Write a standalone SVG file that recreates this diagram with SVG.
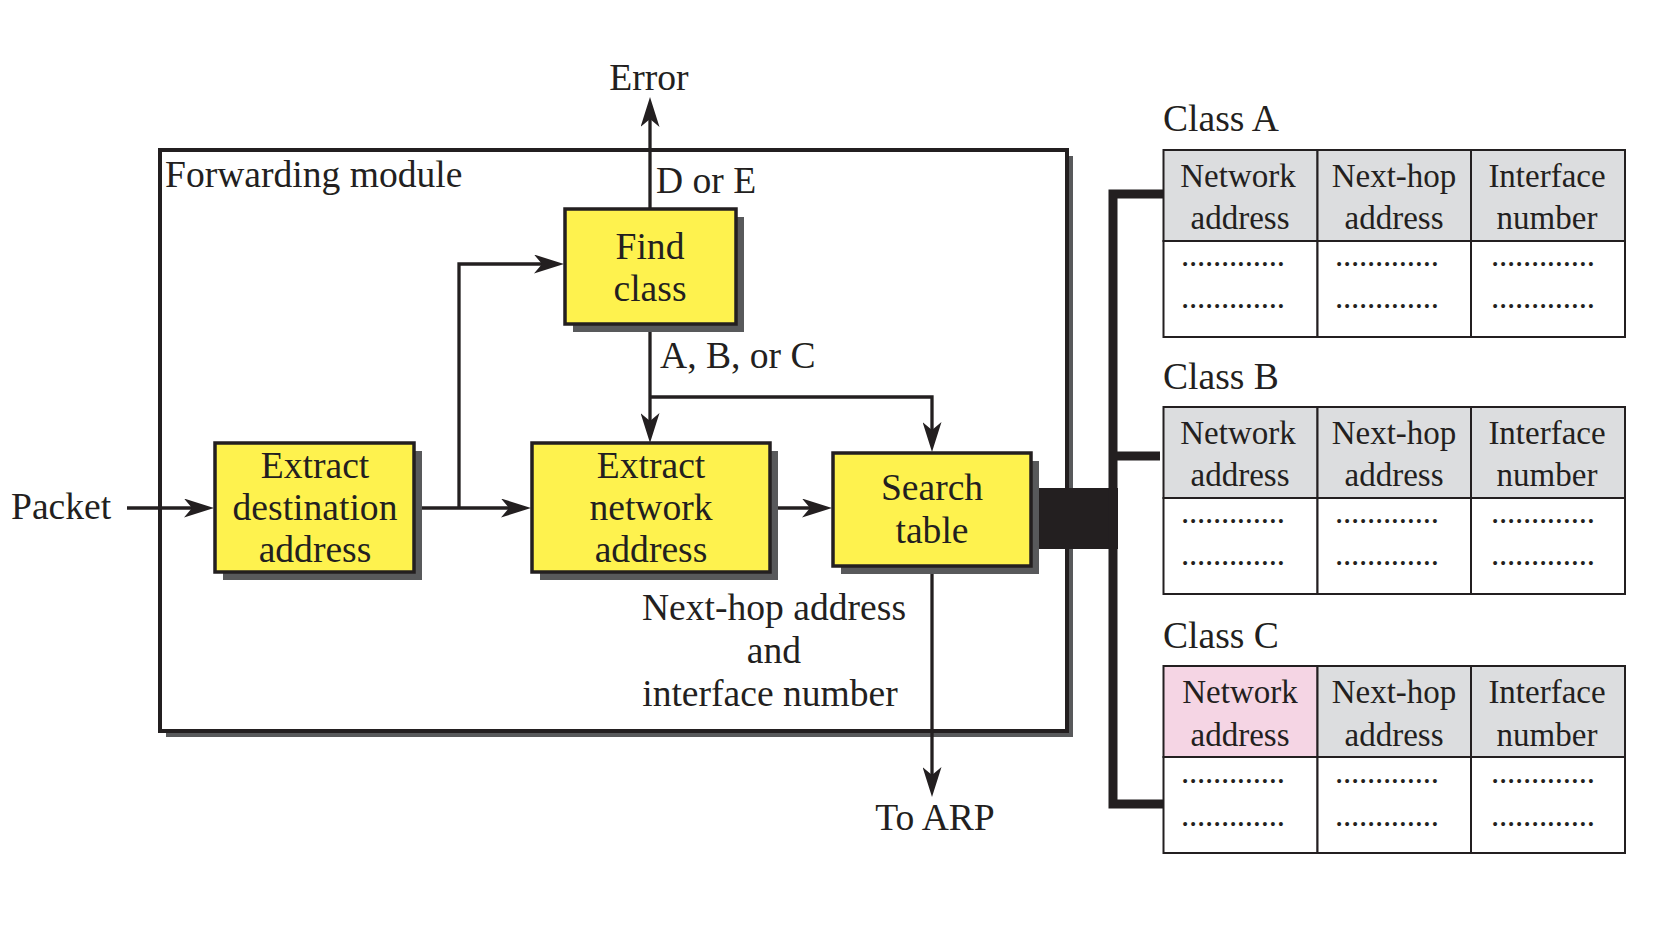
<svg xmlns="http://www.w3.org/2000/svg" width="1676" height="934" viewBox="0 0 1676 934">
<defs>
<marker id="ah" markerUnits="userSpaceOnUse" markerWidth="30" markerHeight="19" refX="22" refY="9.5" orient="auto">
<path d="M0,0 L30,9.5 L0,19 L8,9.5 Z" fill="#231f20"/>
</marker>
<style>
text{font-family:"Liberation Serif","Times New Roman",serif;fill:#231f20}
.t{font-size:37.6px}
.c{text-anchor:middle}
.tb{font-size:33px}
.box{fill:#fef24e;stroke:#231f20;stroke-width:3.5}
.sh{fill:#58595b}
.ln{fill:none;stroke:#231f20;stroke-width:3.3}
.cell{fill:#fff;stroke:#231f20;stroke-width:2}
.hd{fill:#dcdddf;stroke:#231f20;stroke-width:2}
.pk{fill:#f5d5e4;stroke:#231f20;stroke-width:2}
</style>
</defs>
<rect width="1676" height="934" fill="#fff"/>

<g id="forwarding-module">
<rect class="sh" x="166" y="156" width="907" height="581"/>
<rect x="160" y="150" width="907" height="581" fill="#fff" stroke="#231f20" stroke-width="4"/>
<text class="t" x="165" y="187">Forwarding module</text>
</g>

<g id="connectors">
<path class="ln" d="M127,508 H206" marker-end="url(#ah)"/>
<path class="ln" d="M414,508 H523" marker-end="url(#ah)"/>
<path class="ln" d="M459,508 V264 H556" marker-end="url(#ah)"/>
<path class="ln" d="M770,508 H824" marker-end="url(#ah)"/>
<path class="ln" d="M650,209 V105" marker-end="url(#ah)"/>
<path class="ln" d="M650,324 V435" marker-end="url(#ah)"/>
<path class="ln" d="M650,397 H932 V444" marker-end="url(#ah)"/>
<path class="ln" d="M932,566 V789" marker-end="url(#ah)"/>
<rect x="1031" y="488" width="87" height="61" fill="#231f20"/>
<path d="M1163,194 H1113 V804 H1163 M1113,456 H1160" fill="none" stroke="#231f20" stroke-width="9"/>
</g>

<g id="find-class">
<rect class="sh" x="573" y="217" width="171" height="115"/>
<rect class="box" x="565" y="209" width="171" height="115"/>
<text class="t c" x="650" y="259">Find</text>
<text class="t c" x="650" y="301">class</text>
</g>

<g id="extract-destination">
<rect class="sh" x="223" y="451" width="199" height="129"/>
<rect class="box" x="215" y="443" width="199" height="129"/>
<text class="t c" x="315" y="478">Extract</text>
<text class="t c" x="315" y="520">destination</text>
<text class="t c" x="315" y="562">address</text>
</g>

<g id="extract-network">
<rect class="sh" x="540" y="451" width="238" height="129"/>
<rect class="box" x="532" y="443" width="238" height="129"/>
<text class="t c" x="651" y="478">Extract</text>
<text class="t c" x="651" y="520">network</text>
<text class="t c" x="651" y="562">address</text>
</g>

<g id="search-table">
<rect class="sh" x="841" y="461" width="198" height="113"/>
<rect class="box" x="833" y="453" width="198" height="113"/>
<text class="t c" x="932" y="500">Search</text>
<text class="t c" x="932" y="543">table</text>
</g>

<g id="labels">
<text class="t c" x="649" y="90">Error</text>
<text class="t" x="656" y="193">D or E</text>
<text class="t" x="660" y="368">A, B, or C</text>
<text class="t" x="11" y="519">Packet</text>
<text class="t c" x="774" y="620">Next-hop address</text>
<text class="t c" x="774" y="663">and</text>
<text class="t c" x="770" y="706">interface number</text>
<text class="t c" x="935" y="830">To ARP</text>
</g>

<g id="class-a">
<text class="t" x="1163" y="131">Class A</text>
<rect class="hd" x="1163.5" y="150" width="154" height="91"/>
<rect class="hd" x="1317.5" y="150" width="153.5" height="91"/>
<rect class="hd" x="1471" y="150" width="154" height="91"/>
<rect class="cell" x="1163.5" y="241" width="154" height="96"/>
<rect class="cell" x="1317.5" y="241" width="153.5" height="96"/>
<rect class="cell" x="1471" y="241" width="154" height="96"/>
<text class="tb c" x="1238" y="187">Network</text><text class="tb c" x="1240" y="229">address</text>
<text class="tb c" x="1394" y="187">Next-hop</text><text class="tb c" x="1394" y="229">address</text>
<text class="tb c" x="1547" y="187">Interface</text><text class="tb c" x="1547" y="229">number</text>
<text class="tb" x="1181" y="266" textLength="104" lengthAdjust="spacing">.............</text>
<text class="tb" x="1335" y="266" textLength="104" lengthAdjust="spacing">.............</text>
<text class="tb" x="1491" y="266" textLength="104" lengthAdjust="spacing">.............</text>
<text class="tb" x="1181" y="308" textLength="104" lengthAdjust="spacing">.............</text>
<text class="tb" x="1335" y="308" textLength="104" lengthAdjust="spacing">.............</text>
<text class="tb" x="1491" y="308" textLength="104" lengthAdjust="spacing">.............</text>
</g>

<g id="class-b">
<text class="t" x="1163" y="389">Class B</text>
<rect class="hd" x="1163.5" y="407" width="154" height="91"/>
<rect class="hd" x="1317.5" y="407" width="153.5" height="91"/>
<rect class="hd" x="1471" y="407" width="154" height="91"/>
<rect class="cell" x="1163.5" y="498" width="154" height="96"/>
<rect class="cell" x="1317.5" y="498" width="153.5" height="96"/>
<rect class="cell" x="1471" y="498" width="154" height="96"/>
<text class="tb c" x="1238" y="444">Network</text><text class="tb c" x="1240" y="486">address</text>
<text class="tb c" x="1394" y="444">Next-hop</text><text class="tb c" x="1394" y="486">address</text>
<text class="tb c" x="1547" y="444">Interface</text><text class="tb c" x="1547" y="486">number</text>
<text class="tb" x="1181" y="523" textLength="104" lengthAdjust="spacing">.............</text>
<text class="tb" x="1335" y="523" textLength="104" lengthAdjust="spacing">.............</text>
<text class="tb" x="1491" y="523" textLength="104" lengthAdjust="spacing">.............</text>
<text class="tb" x="1181" y="565" textLength="104" lengthAdjust="spacing">.............</text>
<text class="tb" x="1335" y="565" textLength="104" lengthAdjust="spacing">.............</text>
<text class="tb" x="1491" y="565" textLength="104" lengthAdjust="spacing">.............</text>
</g>

<g id="class-c">
<text class="t" x="1163" y="648">Class C</text>
<rect class="pk" x="1163.5" y="666" width="154" height="91"/>
<rect class="hd" x="1317.5" y="666" width="153.5" height="91"/>
<rect class="hd" x="1471" y="666" width="154" height="91"/>
<rect class="cell" x="1163.5" y="757" width="154" height="96"/>
<rect class="cell" x="1317.5" y="757" width="153.5" height="96"/>
<rect class="cell" x="1471" y="757" width="154" height="96"/>
<text class="tb c" x="1240" y="703">Network</text><text class="tb c" x="1240" y="746">address</text>
<text class="tb c" x="1394" y="703">Next-hop</text><text class="tb c" x="1394" y="746">address</text>
<text class="tb c" x="1547" y="703">Interface</text><text class="tb c" x="1547" y="746">number</text>
<text class="tb" x="1181" y="783" textLength="104" lengthAdjust="spacing">.............</text>
<text class="tb" x="1335" y="783" textLength="104" lengthAdjust="spacing">.............</text>
<text class="tb" x="1491" y="783" textLength="104" lengthAdjust="spacing">.............</text>
<text class="tb" x="1181" y="826" textLength="104" lengthAdjust="spacing">.............</text>
<text class="tb" x="1335" y="826" textLength="104" lengthAdjust="spacing">.............</text>
<text class="tb" x="1491" y="826" textLength="104" lengthAdjust="spacing">.............</text>
</g>
</svg>
